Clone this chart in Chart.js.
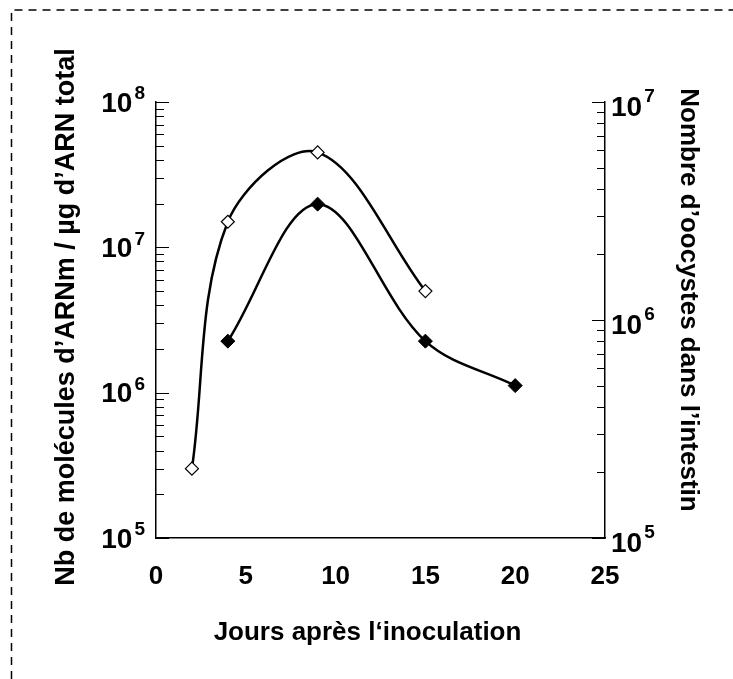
<!DOCTYPE html>
<html>
<head>
<meta charset="utf-8">
<script src="https://cdn.jsdelivr.net/npm/chart.js@4"></script>
<style>
  html, body { margin: 0; padding: 0; background: #fff; }
</style>
</head>
<body>
<canvas id="myChart" width="733" height="679"></canvas>
<script>
// data
var joursArn = [2, 4, 9, 15];
var arnm = [3e5, 1.5e7, 4.5e7, 5e6];          // open diamonds, left axis
var joursOocystes = [4, 9, 15, 20];
var oocystes = [8e5, 3.4e6, 8e5, 5e5];        // filled diamonds, right axis
var xTicks = [0, 5, 10, 15, 20, 25];
var leftExp = [5, 6, 7, 8];
var rightExp = [5, 6, 7];
var titleLeft = 'Nb de molécules d’ARNm / µg d’ARN total';
var titleRight = 'Nombre d’oocystes dans l’intestin';
var titleX = 'Jours après l‘inoculation';

var FONT = '"Liberation Sans", Arial, sans-serif';

function toPoints(xs, ys) {
  return xs.map(function(x, i) { return { x: x, y: ys[i] }; });
}

function drawLogTicks(ctx, scale, exps, x, dir) {
  ctx.beginPath();
  exps.forEach(function(e, i) {
    var v = Math.pow(10, e);
    var py = Math.round(scale.getPixelForValue(v)) + 0.5;
    ctx.moveTo(x, py);
    ctx.lineTo(x + dir * 13, py);
    if (i < exps.length - 1) {
      for (var m = 2; m <= 9; m++) {
        var pm = Math.round(scale.getPixelForValue(m * v)) + 0.5;
        ctx.moveTo(x, pm);
        ctx.lineTo(x + dir * 8, pm);
      }
    }
  });
  ctx.stroke();
}

// "10" with a raised exponent
function drawPow(ctx, x, y, e, align, dyBase, dyExp) {
  ctx.font = 'bold 28px ' + FONT;
  var w1 = ctx.measureText('10').width;
  ctx.font = 'bold 19px ' + FONT;
  var w2 = ctx.measureText(String(e)).width;
  var x0 = align === 'right' ? x - w1 - w2 - 2 : x;
  ctx.textAlign = 'left';
  ctx.textBaseline = 'middle';
  ctx.font = 'bold 28px ' + FONT;
  ctx.fillText('10', x0, y + dyBase);
  ctx.font = 'bold 19px ' + FONT;
  ctx.fillText(String(e), x0 + w1 + 2, y + dyExp);
}

var decor = {
  id: 'decor',
  beforeDraw: function(chart) {
    var ctx = chart.ctx;
    ctx.save();
    ctx.fillStyle = '#fff';
    ctx.fillRect(0, 0, chart.width, chart.height);
    ctx.strokeStyle = '#000';
    ctx.lineWidth = 1.5;
    ctx.setLineDash([8, 6]);
    ctx.beginPath();
    ctx.moveTo(11.5, chart.height);
    ctx.lineTo(11.5, 10);
    ctx.lineTo(chart.width, 10);
    ctx.stroke();
    ctx.restore();
  },
  afterDraw: function(chart) {
    var ctx = chart.ctx;
    var area = chart.chartArea;
    var sx = chart.scales.x, sy = chart.scales.y, sy1 = chart.scales.y1;
    ctx.save();
    ctx.strokeStyle = '#000';
    ctx.fillStyle = '#000';
    ctx.lineWidth = 1;
    drawLogTicks(ctx, sy, leftExp, area.left, 1);
    drawLogTicks(ctx, sy1, rightExp, area.right, -1);

    leftExp.forEach(function(e) {
      drawPow(ctx, area.left - 11, sy.getPixelForValue(Math.pow(10, e)), e, 'right', 2, -8);
    });
    rightExp.forEach(function(e) {
      drawPow(ctx, area.right + 6, sy1.getPixelForValue(Math.pow(10, e)), e, 'left', 6, -5);
    });

    ctx.font = 'bold 26px ' + FONT;
    ctx.textAlign = 'center';
    ctx.textBaseline = 'middle';
    xTicks.forEach(function(v) {
      ctx.fillText(String(v), sx.getPixelForValue(v), area.bottom + 39);
    });

    ctx.fillText(titleX, (area.left + area.right) / 2 - 13, area.bottom + 95);

    ctx.font = 'bold 27px ' + FONT;
    ctx.save();
    ctx.translate(67, 317);
    ctx.rotate(-Math.PI / 2);
    ctx.fillText(titleLeft, 0, 0);
    ctx.restore();

    ctx.font = 'bold 26px ' + FONT;
    ctx.save();
    ctx.translate(688, 300);
    ctx.rotate(Math.PI / 2);
    ctx.fillText(titleRight, 0, 0);
    ctx.restore();
    ctx.restore();
  }
};

var hidden = { display: false, drawTicks: false };
var axisBorder = { display: true, color: '#000', width: 1.5 };

var ctx = document.getElementById('myChart').getContext('2d');
var myChart = new Chart(ctx, {
  type: 'line',
  data: {
    datasets: [{
      label: 'ARNm',
      data: toPoints(joursArn, arnm),
      yAxisID: 'y',
      borderColor: '#000',
      borderWidth: 2.5,
      tension: 0.35,
      pointStyle: 'rectRot',
      pointRadius: 6.5,
      pointBorderWidth: 1.2,
      pointBackgroundColor: '#fff',
      pointBorderColor: '#000'
    }, {
      label: 'Oocystes',
      data: toPoints(joursOocystes, oocystes),
      yAxisID: 'y1',
      borderColor: '#000',
      borderWidth: 2.5,
      tension: 0.35,
      pointStyle: 'rectRot',
      pointRadius: 7,
      pointBorderWidth: 1,
      pointBackgroundColor: '#000',
      pointBorderColor: '#000'
    }]
  },
  options: {
    responsive: false,
    animation: false,
    layout: { padding: { left: 156, right: 128, top: 102, bottom: 141 } },
    plugins: { legend: { display: false }, tooltip: { enabled: false } },
    scales: {
      x: {
        type: 'linear', min: 0, max: 25,
        ticks: { display: false }, grid: hidden, border: axisBorder,
        afterFit: function(s) { s.height = 0; }
      },
      y: {
        type: 'logarithmic', position: 'left', min: 1e5, max: 1e8,
        ticks: { display: false }, grid: hidden, border: axisBorder,
        afterFit: function(s) { s.width = 0; }
      },
      y1: {
        type: 'logarithmic', position: 'right', min: 1e5, max: 1e7,
        ticks: { display: false }, grid: hidden, border: axisBorder,
        afterFit: function(s) { s.width = 0; }
      }
    }
  },
  plugins: [decor]
});
</script>
</body>
</html>
